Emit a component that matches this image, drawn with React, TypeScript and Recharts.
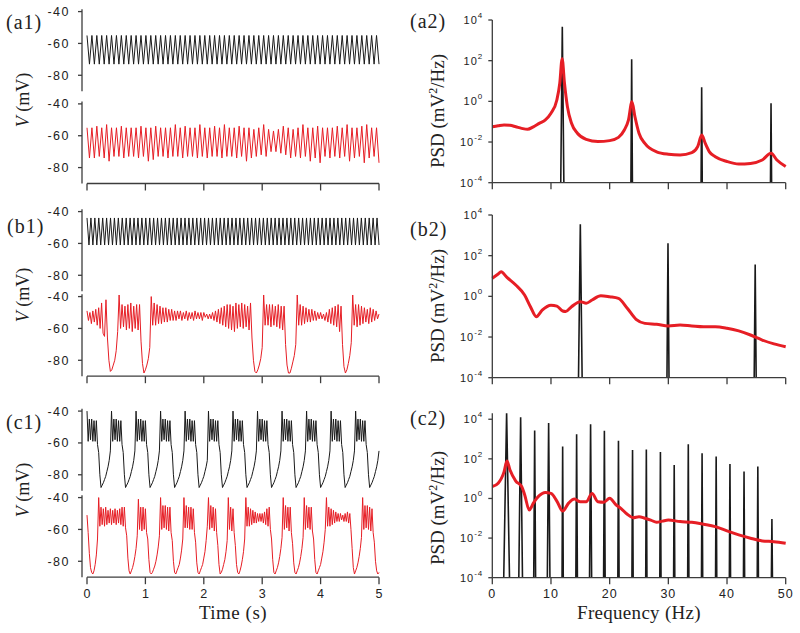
import React from 'react';
import { LineChart, Line, XAxis, YAxis, ReferenceLine } from 'recharts';

const W = 800;
const H = 633;
const RED = '#e61e25';
const BLACK = '#1a1a1a';
const AXIS = '#3c3c3c';
const SANS = "'Liberation Sans', Arial, sans-serif";
const SERIF = "'Liberation Serif', 'Times New Roman', serif";

// ---------- membrane potential traces, V (mV) ----------
// (a1) ~11.9 Hz oscillation, one peak and one trough per cycle
const a1Dt = 5 / 119;
const a1BlackPeaks = [
  -55, -55, -55, -55, -55, -55, -55, -55, -55, -55, -55, -55, -55, -55, -55, -55, -55, -55, -55, -55,
  -55, -55, -55, -55, -55, -55, -55, -55, -55, -55, -55, -55, -55, -55, -55, -55, -55, -55, -55, -55,
  -55, -55, -55, -55, -55, -55, -55, -55, -55, -55, -55, -55, -55, -55, -55, -55, -55, -55, -55, -55,
];
const a1BlackTroughs = [
  -73, -73, -73, -73, -73, -73, -73, -73, -73, -73, -73, -73, -73, -73, -73, -73, -73, -73, -73, -73,
  -73, -73, -73, -73, -73, -73, -73, -73, -73, -73, -73, -73, -73, -73, -73, -73, -73, -73, -73, -73,
  -73, -73, -73, -73, -73, -73, -73, -73, -73, -73, -73, -73, -73, -73, -73, -73, -73, -73, -73, -73,
];
const a1RedPeaks = [
  -55, -55, -54, -55, -53, -55, -55, -54, -55, -55, -55, -54, -55, -55, -54, -55, -55, -55, -53, -55,
  -54, -55, -55, -53, -55, -55, -54, -55, -53, -55, -55, -54, -55, -55, -56, -55, -53, -56, -57, -56,
  -54, -55, -56, -55, -53, -55, -55, -54, -55, -55, -55, -54, -55, -53, -55, -55, -54, -53, -55, -55,
];
const a1RedTroughs = [
  -74, -74, -73, -74, -76, -73, -73, -74, -73, -73, -74, -73, -76, -75, -73, -73, -74, -73, -73, -74,
  -73, -73, -74, -73, -74, -73, -73, -74, -73, -73, -74, -73, -76, -74, -73, -72, -73, -70, -70, -71,
  -72, -74, -73, -74, -73, -76, -74, -77, -73, -74, -73, -74, -73, -76, -74, -73, -77, -74, -73, -77,
];

// (b1) black ~14.9 Hz oscillation
const b1Dt = 5 / 149;
const b1BlackPeaks = [
  -44, -44, -44, -44, -44, -44, -44, -44, -44, -44, -44, -44, -44, -44, -44, -44, -44, -44, -44, -44, -44, -44, -44, -44, -44,
  -44, -44, -44, -44, -44, -44, -44, -44, -44, -44, -44, -44, -44, -44, -44, -44, -44, -44, -44, -44, -44, -44, -44, -44, -44,
  -44, -44, -44, -44, -44, -44, -44, -44, -44, -44, -44, -44, -44, -44, -44, -44, -44, -44, -44, -44, -44, -44, -44, -44, -44,
];
const b1BlackTroughs = [
  -61, -61, -61, -61, -61, -61, -61, -61, -61, -61, -61, -61, -61, -61, -61, -61, -61, -61, -61, -61, -61, -61, -61, -61, -61,
  -61, -61, -61, -61, -61, -61, -61, -61, -61, -61, -61, -61, -61, -61, -61, -61, -61, -61, -61, -61, -61, -61, -61, -61, -61,
  -61, -61, -61, -61, -61, -61, -61, -61, -61, -61, -61, -61, -61, -61, -61, -61, -61, -61, -61, -61, -61, -61, -61, -61, -61,
];
// (b1) red, sampled every 25 ms
const b1RedDt = 0.025;
const b1Red = [
  -49, -55, -50, -57, -49, -56, -48, -58, -47, -60, -44, -63, -65, -42, -66, -80, -87, -86, -83, -80,
  -74, -62, -39, -60, -45, -59, -46, -61, -45, -60, -44, -62, -46, -60, -45, -61, -45, -68, -82, -88,
  -86, -83, -79, -72, -40, -58, -44, -58, -45, -57, -46, -57, -47, -56, -47, -56, -48, -55, -48, -55,
  -49, -55, -49, -54, -49, -55, -50, -54, -49, -55, -50, -54, -50, -55, -49, -54, -50, -54, -50, -55,
  -50, -53, -51, -54, -51, -54, -50, -55, -49, -56, -48, -57, -47, -58, -46, -59, -45, -60, -45, -61,
  -46, -62, -44, -60, -45, -59, -44, -60, -45, -59, -46, -61, -44, -66, -80, -87, -88, -86, -83, -79,
  -72, -39, -58, -45, -58, -45, -59, -45, -58, -46, -59, -45, -60, -46, -61, -46, -70, -83, -88, -88,
  -85, -81, -77, -70, -39, -58, -45, -58, -46, -57, -47, -56, -48, -56, -48, -55, -49, -55, -50, -54,
  -50, -54, -51, -55, -50, -56, -48, -57, -47, -58, -46, -59, -45, -62, -46, -70, -84, -88, -86, -82,
  -77, -69, -39, -58, -45, -59, -45, -58, -46, -57, -47, -56, -48, -57, -47, -56, -48, -55, -49, -54,
  -51,
];

// (c1) bursting, sampled every 20 ms
const c1Dt = 0.02;
const c1Samples = 251;
// one burst of the black trace, from its first spike to the next one
const c1BurstShape = [-40, -59, -45, -58, -45, -59, -46, -59, -46, -61, -66, -80, -88, -86.5, -85, -83, -81, -78, -75, -71, -65];
// sample index where each black burst starts
const c1BlackBurstStarts = [0, 21, 42, 63, 84, 104, 125, 146, 167, 188, 209, 230];
const c1Red = [
  -51, -62, -75, -84, -87, -88, -86, -82, -76, -66, -40, -58, -46, -57, -47, -58, -46, -57, -48, -56,
  -47, -57, -48, -56, -47, -57, -48, -56, -47, -57, -46, -58, -46, -59, -64, -78, -86, -88, -86, -84,
  -81, -77, -72, -64, -41, -60, -46, -61, -46, -60, -47, -62, -66, -79, -87, -88, -87, -85, -83, -80,
  -76, -71, -64, -40, -60, -45, -59, -45, -60, -46, -61, -46, -62, -67, -80, -87, -88, -86, -84, -82,
  -78, -73, -66, -40, -59, -45, -59, -46, -60, -46, -60, -47, -62, -68, -81, -87, -88, -86, -84, -82,
  -78, -74, -67, -58, -40, -60, -45, -59, -46, -61, -47, -62, -70, -82, -88, -87, -85, -82, -79, -74,
  -67, -40, -60, -46, -61, -47, -62, -70, -82, -87, -88, -86, -83, -79, -74, -66, -40, -58, -46, -58,
  -47, -57, -48, -56, -49, -56, -50, -55, -50, -55, -50, -56, -49, -57, -47, -58, -46, -60, -66, -79,
  -87, -88, -86, -84, -81, -77, -72, -65, -40, -60, -45, -59, -46, -61, -46, -62, -69, -81, -87, -88,
  -86, -84, -81, -77, -72, -65, -40, -60, -45, -59, -46, -60, -46, -61, -66, -79, -87, -88, -86, -84,
  -82, -78, -74, -68, -60, -40, -58, -46, -58, -47, -57, -48, -56, -49, -55, -50, -55, -50, -54, -51,
  -55, -50, -55, -49, -56, -50, -60, -72, -84, -88, -86, -84, -81, -77, -72, -65, -40, -60, -45, -59,
  -45, -60, -46, -61, -47, -62, -68, -80, -86, -88, -87,
];

// ---------- power spectral density (mV^2/Hz) ----------
const SPIKE_FLOOR = 1e-5;
const a2SpikeFreqs = [11.93, 23.75, 35.68, 47.5];
const a2SpikePeaks = [4700, 117, 4.9, 0.8];
const a2SpikeWidths = [0.3, 0.15, 0.12, 0.12];
const a2RedFreqs = [0, 1, 2, 3, 4, 5, 6, 7, 8, 9, 10, 11, 11.5, 11.9, 12.3, 12.8, 13.5, 14.5, 16, 18, 20, 21.5, 22.5, 23.2, 23.8, 24.3, 25, 26, 28, 30, 32, 34, 35, 35.7, 36.3, 37, 38, 40, 42, 44, 46, 47.5, 48.5, 50];
const a2RedPsd = [0.056, 0.063, 0.069, 0.066, 0.056, 0.047, 0.042, 0.056, 0.083, 0.12, 0.26, 1.17, 7.8, 126, 7.8, 0.55, 0.083, 0.027, 0.0135, 0.0105, 0.0117, 0.017, 0.039, 0.12, 0.95, 0.18, 0.027, 0.0085, 0.0033, 0.0025, 0.0023, 0.003, 0.0059, 0.022, 0.0085, 0.0033, 0.0019, 0.0011, 0.00083, 0.00089, 0.0013, 0.0028, 0.0013, 0.00062];

const b2SpikeFreqs = [15.0, 29.94, 44.8];
const b2SpikePeaks = [3470, 410, 37];
const b2SpikeWidths = [0.35, 0.2, 0.2];
const b2RedFreqs = [0, 1, 1.5, 2.5, 4, 5.5, 6.5, 7.5, 8.5, 10, 11, 12, 12.5, 13.5, 15, 16, 17, 18.5, 20, 21.5, 23, 24.5, 26, 28, 30, 32, 34, 36, 38, 40, 42, 44, 46, 48, 50];
const b2RedPsd = [7.8, 12.6, 16, 8.5, 3.6, 1.17, 0.31, 0.1, 0.21, 0.37, 0.33, 0.19, 0.18, 0.31, 0.55, 0.46, 0.66, 1.07, 0.95, 0.79, 0.26, 0.074, 0.047, 0.042, 0.035, 0.039, 0.035, 0.032, 0.032, 0.027, 0.02, 0.0126, 0.0071, 0.0046, 0.0033];

const c2SpikeFreqs = [2.44, 4.83, 7.22, 9.6, 11.99, 14.37, 16.75, 19.1, 21.5, 23.9, 26.25, 28.65, 31.0, 33.4, 35.75, 38.15, 40.5, 42.9, 45.25, 47.65];
const c2SpikePeaks = [22400, 12600, 2700, 6500, 420, 1740, 5600, 2600, 830, 280, 295, 225, 49, 550, 190, 130, 55, 23, 41, 0.093];
const c2SpikeWidths = [0.55, 0.35, 0.18, 0.25, 0.12, 0.15, 0.2, 0.15, 0.12, 0.12, 0.12, 0.12, 0.12, 0.12, 0.12, 0.12, 0.12, 0.12, 0.12, 0.12];
const c2RedFreqs = [0, 1, 2, 2.5, 3, 4, 5, 5.5, 6.3, 7, 8, 9, 10, 11, 12, 13, 14, 15, 16, 17, 18, 19, 20, 21, 22, 23, 24, 25, 26, 27, 28, 29, 30, 32, 34, 36, 38, 40, 42, 44, 46, 48, 50];
const c2RedPsd = [4.0, 5.9, 22, 78, 28, 7.6, 4.0, 1.6, 0.26, 0.58, 1.38, 2.0, 1.8, 0.74, 0.23, 0.58, 0.93, 0.69, 0.69, 1.8, 0.69, 0.65, 1.02, 0.51, 0.3, 0.16, 0.107, 0.12, 0.1, 0.081, 0.063, 0.072, 0.081, 0.068, 0.063, 0.05, 0.038, 0.023, 0.0145, 0.0098, 0.0072, 0.0066, 0.0055];

// ---------- build series ----------
const alternate = (peaks: number[], troughs: number[], dt: number) =>
  peaks.flatMap((p, k) => [{ t: 2 * k * dt, v: p }, { t: (2 * k + 1) * dt, v: troughs[k] }]);
const sampled = (vals: number[], dt: number) => vals.map((v, i) => ({ t: i * dt, v }));
const c1BlackData = c1BlackBurstStarts.flatMap((s, k) => {
  const end = k + 1 < c1BlackBurstStarts.length ? c1BlackBurstStarts[k + 1] : c1Samples;
  return c1BurstShape.slice(0, end - s).map((v, j) => ({ t: (s + j) * c1Dt, v }));
});
const spikeLine = (freqs: number[], peaks: number[], widths: number[]) => [
  { f: 0, p: SPIKE_FLOOR },
  ...freqs.flatMap((f, k) => [
    { f: f - widths[k], p: SPIKE_FLOOR },
    { f, p: peaks[k] },
    { f: f + widths[k], p: SPIKE_FLOOR },
  ]),
  { f: 50, p: SPIKE_FLOOR },
];
const zip = (fs: number[], ps: number[]) => fs.map((f, i) => ({ f, p: ps[i] }));
const noLabel = () => '';

type Pt = { t: number; v: number };

// left column: one sub-panel with time on x
function TraceChart({ data, color, top, axis, labels }: { data: Pt[]; color: string; top: number; axis?: boolean; labels?: boolean }) {
  const plotLeft = 82;
  const plotW = 297;
  const plotH = 82;
  const yW = 42;
  const xH = axis ? 30 : 0;
  return (
    <div style={{ position: 'absolute', left: 0, top: 0 }}>
      <LineChart
        width={W}
        height={H}
        margin={{ left: plotLeft - yW, top, right: W - plotLeft - plotW, bottom: H - top - plotH - xH }}
      >
        <XAxis
          dataKey="t"
          type="number"
          domain={[0, 5]}
          ticks={[0, 1, 2, 3, 4, 5]}
          padding={{ left: 5 }}
          hide={!axis}
          height={xH}
          axisLine={false}
          tickLine={{ stroke: AXIS, strokeWidth: 1.3 }}
          tickSize={7}
          tickMargin={5}
          tickFormatter={labels ? undefined : noLabel}
          tick={{ fill: '#222', fontSize: 12.5, fontFamily: SANS }}
        />
        <YAxis
          type="number"
          domain={[-90, -38.5]}
          ticks={[-80, -60, -40]}
          width={yW}
          allowDataOverflow
          axisLine={{ stroke: AXIS, strokeWidth: 1.3 }}
          tickLine={{ stroke: AXIS, strokeWidth: 1.3 }}
          tickSize={4}
          tickMargin={8}
          tick={{ fill: '#222', fontSize: 12.5, fontFamily: SANS, letterSpacing: 1.5 }}
        />
        {axis && (
          <ReferenceLine
            segment={[{ x: 0, y: -90 }, { x: 5, y: -90 }]}
            stroke={AXIS}
            strokeWidth={1.3}
          />
        )}
        <Line data={data} dataKey="v" type="linear" stroke={color} strokeWidth={1} dot={false} isAnimationActive={false} />
      </LineChart>
    </div>
  );
}

const PowTick = (props: any) => {
  const { x, y, payload } = props;
  const e = Math.round(Math.log10(payload.value));
  return (
    <text x={x} y={y} dy={4} textAnchor="end" fill="#222" fontFamily={SANS} fontSize={11} letterSpacing={1}>
      10
      <tspan dy={-6} fontSize={8}>
        {e}
      </tspan>
    </text>
  );
};

type Sp = { f: number; p: number };

// right column: PSD on a log axis
function PsdChart({ black, red, top, plotH, yMax, labels }: { black: Sp[]; red: Sp[]; top: number; plotH: number; yMax: number; labels?: boolean }) {
  const plotLeft = 492.3;
  const plotW = 293.4;
  const yW = 60;
  const xH = 30;
  return (
    <div style={{ position: 'absolute', left: 0, top: 0 }}>
      <LineChart
        width={W}
        height={H}
        margin={{ left: plotLeft - yW, top, right: W - plotLeft - plotW, bottom: H - top - plotH - xH }}
      >
        <XAxis
          dataKey="f"
          type="number"
          domain={[0, 50]}
          ticks={[0, 10, 20, 30, 40, 50]}
          height={xH}
          axisLine={{ stroke: AXIS, strokeWidth: 1.3 }}
          tickLine={{ stroke: AXIS, strokeWidth: 1.3 }}
          tickSize={6.5}
          tickMargin={5}
          tickFormatter={labels ? undefined : noLabel}
          tick={{ fill: '#222', fontSize: 12.5, fontFamily: SANS, letterSpacing: 1 }}
        />
        <YAxis
          type="number"
          scale="log"
          domain={[1e-4, yMax]}
          ticks={[1e-4, 1e-2, 1, 1e2, 1e4]}
          width={yW}
          allowDataOverflow
          axisLine={{ stroke: AXIS, strokeWidth: 1.3 }}
          tickLine={{ stroke: AXIS, strokeWidth: 1.3 }}
          tickSize={4}
          tickMargin={5}
          tick={(p: any) => <PowTick {...p} />}
        />
        <Line data={black} dataKey="p" type="linear" stroke={BLACK} strokeWidth={1.6} dot={false} isAnimationActive={false} />
        <Line data={red} dataKey="p" type="monotone" stroke={RED} strokeWidth={3} dot={false} isAnimationActive={false} />
      </LineChart>
    </div>
  );
}

function VLabel({ y }: { y: number }) {
  return (
    <text x={28.5} y={y} transform={`rotate(-90 28.5 ${y})`} textAnchor="middle" fontFamily={SERIF} fontSize={18} fill="#222">
      <tspan fontStyle="italic">V</tspan> (mV)
    </text>
  );
}

function PsdLabel({ y }: { y: number }) {
  return (
    <text x={443.5} y={y} transform={`rotate(-90 443.5 ${y})`} textAnchor="middle" fontFamily={SERIF} fontSize={19} fill="#222">
      PSD (mV
      <tspan dy={-7} fontSize={12}>2</tspan>
      <tspan dy={7}>/Hz)</tspan>
    </text>
  );
}

export default function App() {
  const panel = { fontFamily: SERIF, fontSize: 20, fill: '#222', letterSpacing: 1 };
  return (
    <div style={{ position: 'absolute', left: 0, top: 0, width: W, height: H, background: '#fff', overflow: 'hidden' }}>
      <TraceChart data={alternate(a1BlackPeaks, a1BlackTroughs, a1Dt)} color={BLACK} top={9.2} />
      <TraceChart data={alternate(a1RedPeaks, a1RedTroughs, a1Dt)} color={RED} top={101.5} axis />
      <TraceChart data={alternate(b1BlackPeaks, b1BlackTroughs, b1Dt)} color={BLACK} top={209.2} />
      <TraceChart data={sampled(b1Red, b1RedDt)} color={RED} top={294.2} axis />
      <TraceChart data={c1BlackData} color={BLACK} top={408.7} />
      <TraceChart data={sampled(c1Red, c1Dt)} color={RED} top={495.2} axis labels />

      <PsdChart black={spikeLine(a2SpikeFreqs, a2SpikePeaks, a2SpikeWidths)} red={zip(a2RedFreqs, a2RedPsd)} top={20} plotH={162.7} yMax={1e4} />
      <PsdChart black={spikeLine(b2SpikeFreqs, b2SpikePeaks, b2SpikeWidths)} red={zip(b2RedFreqs, b2RedPsd)} top={215} plotH={162.7} yMax={1e4} />
      <PsdChart black={spikeLine(c2SpikeFreqs, c2SpikePeaks, c2SpikeWidths)} red={zip(c2RedFreqs, c2RedPsd)} top={413.3} plotH={164.4} yMax={19950} labels />

      <svg width={W} height={H} style={{ position: 'absolute', left: 0, top: 0, pointerEvents: 'none' }}>
        <text x={6} y={28.5} {...panel}>(a1)</text>
        <text x={7} y={233} {...panel}>(b1)</text>
        <text x={6} y={428.5} {...panel}>(c1)</text>
        <text x={410} y={28} {...panel}>(a2)</text>
        <text x={410} y={236} {...panel}>(b2)</text>
        <text x={410} y={425} {...panel}>(c2)</text>
        <VLabel y={100} />
        <VLabel y={295} />
        <VLabel y={490} />
        <PsdLabel y={111} />
        <PsdLabel y={306} />
        <PsdLabel y={508} />
        <text x={233} y={619} textAnchor="middle" fontFamily={SERIF} fontSize={19} fill="#222" letterSpacing={0.5}>Time (s)</text>
        <text x={639} y={619} textAnchor="middle" fontFamily={SERIF} fontSize={19} fill="#222" letterSpacing={0.3}>Frequency (Hz)</text>
      </svg>
    </div>
  );
}
